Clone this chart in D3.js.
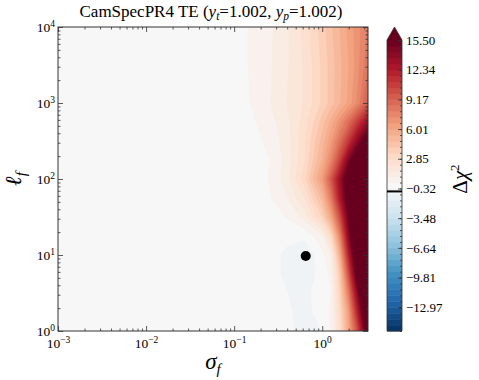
<!DOCTYPE html>
<html>
<head>
<meta charset="utf-8">
<script src="https://cdn.jsdelivr.net/npm/d3@7"></script>
<style>
  body { margin: 0; background: #fff; }
  text { font-family: "Liberation Serif", serif; fill: #000; }
</style>
</head>
<body>
<div id="vis"></div>
<script>
/* data */

// grid columns: log10(sigma_f), rows: log10(ell_f)
const sigmaLog = [-3, -2, -1.5, -1, -0.8, -0.6, -0.4, -0.2, 0, 0.1, 0.2, 0.3, 0.4, 0.52];
const ellLog = [0, 0.25, 0.5, 0.75, 1, 1.25, 1.5, 1.75, 2, 2.25, 2.5, 2.75, 3, 3.5, 4];

// delta chi^2, one row per ellLog (bottom to top), one value per sigmaLog
const dchi2 = [
  [0, 0, 0, 0, 0, 0, -0.1, -0.6, -0.3, 0.4, 2.5, 6, 10, 17],
  [0, 0, 0, 0, 0, 0, -0.2, -0.6, 0.0, 0.4, 3, 6.5, 12, 19],
  [0, 0, 0, 0, 0, 0, -0.3, -0.6, 0.2, 0.3, 3.5, 8, 14, 21],
  [0, 0, 0, 0, 0, 0, -0.5, -0.7, -0.1, 0.5, 4, 10, 16.5, 22],
  [0, 0, 0, 0, 0, 0, -0.5, -0.8, 0.1, 1.0, 5.5, 12, 18, 23],
  [0, 0, 0, 0, 0, 0, -0.1, -0.2, 0.8, 3, 7.5, 14, 19.5, 24],
  [0, 0, 0, 0, 0, 0, 0.35, 1.2, 3.5, 6, 10, 15.3, 21, 25],
  [0, 0, 0, 0, 0, 0.25, 0.9, 2.2, 5, 8, 12.5, 16.5, 21, 25],
  [0, 0, 0, 0, 0, 0.35, 1.3, 3.2, 6.5, 9.5, 13.3, 17, 20.5, 23],
  [0, 0, 0, 0, 0.05, 0.3, 1.2, 2.8, 5.5, 7.5, 10.5, 14.5, 17.5, 20],
  [0, 0, 0, 0, 0.1, 0.45, 1.3, 2.7, 5, 6.5, 8.5, 11, 14, 17],
  [0, 0, 0, 0, 0.2, 0.7, 1.4, 2.5, 4.4, 5.6, 7, 8.6, 10.8, 13.5],
  [0, 0, 0, 0, 0.35, 0.9, 1.6, 2.3, 3.6, 4.4, 5.3, 6.2, 7.4, 9.5],
  [0, 0, 0, 0, 0.4, 0.85, 1.5, 2.3, 3.6, 4.4, 5.2, 6.0, 7.0, 8.4],
  [0, 0, 0, 0, 0.4, 0.8, 1.45, 2.45, 3.8, 4.6, 5.4, 6.2, 7.0, 8.0]
];

const levelMin = -15.5, levelMax = 15.5, nLevels = 50;
const bestFit = {sigma: 0.65, ell: 9.7};
const cbarLine = -0.63;

// RdBu reversed (blue -> red)
const cmapStops = ["#053061", "#2166ac", "#4393c3", "#92c5de", "#d1e5f0", "#f7f7f7",
                   "#fddbc7", "#f4a582", "#d6604d", "#b2182b", "#67001f"];

/* chart */

const width = 479, height = 380;
const plot = {left: 58, right: 368, top: 27, bottom: 331};
const cbar = {left: 387, right: 402, top: 40, bottom: 331, tip: 27};

const levels = d3.range(nLevels).map(i => levelMin + i * (levelMax - levelMin) / (nLevels - 1));
const cmap = d3.piecewise(d3.interpolateRgb, cmapStops);
const colorOf = v => cmap(Math.max(0, Math.min(1, (v - levelMin) / (levelMax - levelMin))));
const bandColor = i => i < nLevels - 1 ? colorOf((levels[i] + levels[i + 1]) / 2) : cmap(1);

const x = d3.scaleLog().domain([1e-3, Math.pow(10, 0.52)]).range([plot.left, plot.right]);
const y = d3.scaleLog().domain([1, 1e4]).range([plot.bottom, plot.top]);

const svg = d3.select("#vis").append("svg")
  .attr("width", width).attr("height", height);

svg.append("clipPath").attr("id", "clip")
  .append("rect")
  .attr("x", plot.left).attr("y", plot.top)
  .attr("width", plot.right - plot.left).attr("height", plot.bottom - plot.top);

// contours
const nx = sigmaLog.length, ny = ellLog.length;
const values = dchi2.flat();

// find where d3.contours puts grid values (k or k+0.5)
const probe = d3.contours().size([2, 1]).thresholds([0.25])([0, 1])[0];
const offset = d3.min(probe.coordinates[0][0], p => p[0]) - 0.25;

const ix = d3.scaleLinear().domain(d3.range(nx)).range(sigmaLog).clamp(true);
const iy = d3.scaleLinear().domain(d3.range(ny)).range(ellLog).clamp(true);

const project = d3.geoTransform({
  point: function(px, py) {
    this.stream.point(x(Math.pow(10, ix(px - offset))), y(Math.pow(10, iy(py - offset))));
  }
});
const path = d3.geoPath(project);

const contours = d3.contours().size([nx, ny]).thresholds(levels)(values);

svg.append("rect")
  .attr("x", plot.left).attr("y", plot.top)
  .attr("width", plot.right - plot.left).attr("height", plot.bottom - plot.top)
  .attr("fill", bandColor(0));

svg.append("g").attr("clip-path", "url(#clip)")
  .selectAll("path")
  .data(contours)
  .join("path")
  .attr("d", path)
  .attr("fill", (d, i) => bandColor(i))
  .attr("stroke", (d, i) => bandColor(i))
  .attr("stroke-width", 0.4);

// best fit point
svg.append("circle")
  .attr("cx", x(bestFit.sigma)).attr("cy", y(bestFit.ell))
  .attr("r", 5).attr("fill", "#000");

// axes
const decadesX = [1e-3, 1e-2, 1e-1, 1];
const decadesY = [1, 10, 100, 1000, 10000];
const minorX = [];
[1e-3, 1e-2, 1e-1, 1].forEach(d => d3.range(2, 10).forEach(k => { if (d * k <= x.domain()[1]) minorX.push(d * k); }));
const minorY = [];
[1, 10, 100, 1000].forEach(d => d3.range(2, 10).forEach(k => minorY.push(d * k)));

const tickCol = "#333";
function drawAxis(axis, tx, ty) {
  const g = svg.append("g").attr("transform", `translate(${tx},${ty})`).call(axis);
  g.select(".domain").remove();
  g.selectAll("line").attr("stroke", tickCol).attr("stroke-width", 0.8);
  return g;
}

const pow10 = v => Math.round(Math.log10(v));
function supLabel(sel) {
  sel.each(function(d) {
    const t = d3.select(this).text("");
    t.append("tspan").text("10");
    const e = pow10(d);
    t.append("tspan").attr("dy", "-0.55em").attr("font-size", "9.5px")
      .text(e < 0 ? "\u2212" + (-e) : e);
  });
}

const gxb = drawAxis(d3.axisBottom(x).tickValues(decadesX).tickSize(-5).tickPadding(4), 0, plot.bottom);
gxb.selectAll("text").attr("font-size", "13.5px").attr("dy", "0.95em").call(supLabel);
drawAxis(d3.axisBottom(x).tickValues(minorX).tickSize(-2.5).tickFormat(""), 0, plot.bottom);
drawAxis(d3.axisTop(x).tickValues(decadesX).tickSize(-5).tickFormat(""), 0, plot.top);
drawAxis(d3.axisTop(x).tickValues(minorX).tickSize(-2.5).tickFormat(""), 0, plot.top);

const gyl = drawAxis(d3.axisLeft(y).tickValues(decadesY).tickSize(-5).tickPadding(3), plot.left, 0);
gyl.selectAll("text").attr("font-size", "13.5px").call(supLabel);
drawAxis(d3.axisLeft(y).tickValues(minorY).tickSize(-2.5).tickFormat(""), plot.left, 0);
drawAxis(d3.axisRight(y).tickValues(decadesY).tickSize(-5).tickFormat(""), plot.right, 0);
drawAxis(d3.axisRight(y).tickValues(minorY).tickSize(-2.5).tickFormat(""), plot.right, 0);

svg.append("rect")
  .attr("x", plot.left).attr("y", plot.top)
  .attr("width", plot.right - plot.left).attr("height", plot.bottom - plot.top)
  .attr("fill", "none").attr("stroke", tickCol).attr("stroke-width", 1);

// title
const title = svg.append("text")
  .attr("x", 211).attr("y", 17)
  .attr("text-anchor", "middle").attr("font-size", "17px");
title.append("tspan").text("CamSpecPR4 TE (");
title.append("tspan").attr("font-style", "italic").text("y");
title.append("tspan").attr("font-style", "italic").attr("font-size", "11.5px").attr("dy", "3").text("t");
title.append("tspan").attr("dy", "-3").text("=1.002, ");
title.append("tspan").attr("font-style", "italic").text("y");
title.append("tspan").attr("font-style", "italic").attr("font-size", "11.5px").attr("dy", "3").text("p");
title.append("tspan").attr("dy", "-3").text("=1.002)");

// axis labels
const xl = svg.append("text")
  .attr("x", (plot.left + plot.right) / 2).attr("y", 369)
  .attr("text-anchor", "middle").attr("font-size", "23px").attr("font-style", "italic");
xl.append("tspan").text("\u03c3");
xl.append("tspan").attr("font-size", "15px").attr("dy", "5").text("f");

const yl = svg.append("text")
  .attr("transform", `translate(21,${(plot.top + plot.bottom) / 2}) rotate(-90)`)
  .attr("text-anchor", "middle").attr("font-size", "23px").attr("font-style", "italic");
yl.append("tspan").text("\u2113");
yl.append("tspan").attr("font-size", "15px").attr("dy", "5").text("f");

// colorbar
const cy = d3.scaleLinear().domain([levelMin, levelMax]).range([cbar.bottom, cbar.top]);
const cg = svg.append("g");
cg.selectAll("rect")
  .data(levels.slice(0, -1))
  .join("rect")
  .attr("x", cbar.left).attr("width", cbar.right - cbar.left)
  .attr("y", (d, i) => cy(levels[i + 1]))
  .attr("height", (d, i) => cy(levels[i]) - cy(levels[i + 1]) + 0.5)
  .attr("fill", (d, i) => bandColor(i));
cg.append("path")
  .attr("d", `M${cbar.left},${cy(levelMax)}L${(cbar.left + cbar.right) / 2},${cbar.tip}L${cbar.right},${cy(levelMax)}Z`)
  .attr("fill", cmap(1));
cg.append("path")
  .attr("d", `M${cbar.left},${cy(levelMax)}L${(cbar.left + cbar.right) / 2},${cbar.tip}L${cbar.right},${cy(levelMax)}V${cbar.bottom}H${cbar.left}Z`)
  .attr("fill", "none").attr("stroke", tickCol).attr("stroke-width", 0.8);
cg.append("line")
  .attr("x1", cbar.left).attr("x2", cbar.right)
  .attr("y1", cy(cbarLine)).attr("y2", cy(cbarLine))
  .attr("stroke", "#000").attr("stroke-width", 2);

const cbarTicks = levels.filter((d, i) => (nLevels - 1 - i) % 5 === 0);
const ca = drawAxis(d3.axisRight(cy).tickValues(cbarTicks).tickSize(-4).tickPadding(4)
  .tickFormat(d => d3.format(".2f")(d).replace("-", "\u2212")), cbar.right, 0);
ca.selectAll("text").attr("font-size", "13px");
drawAxis(d3.axisRight(cy).tickValues(levels).tickSize(-2).tickFormat(""), cbar.right, 0);

const cl = svg.append("text")
  .attr("transform", `translate(467,${(plot.top + plot.bottom) / 2}) rotate(-90)`)
  .attr("text-anchor", "middle").attr("font-size", "21px");
cl.append("tspan").text("\u0394");
cl.append("tspan").attr("font-style", "italic").text("\u03c7");
cl.append("tspan").attr("font-size", "13px").attr("dy", "-8").text("2");
</script>
</body>
</html>
